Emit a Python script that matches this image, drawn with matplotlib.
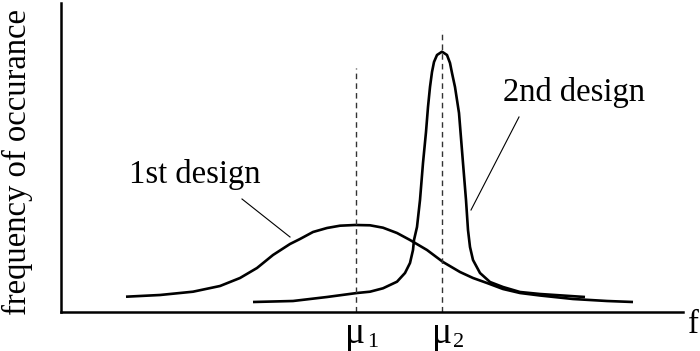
import matplotlib
matplotlib.use("Agg")
import matplotlib.pyplot as plt

# Values (x position along f, y = frequency of occurance)
design1_x = [126, 160, 193, 220, 240, 257, 273, 290, 300, 313, 327, 340, 355, 370,
             383, 397, 410, 427, 443, 460, 473, 487, 503, 520, 540, 573, 607, 633]
design1_y = [15.3, 17, 20.3, 26, 34, 44, 57, 68, 73, 80, 84, 86.3, 87, 86.7,
             84.3, 79, 72, 62, 50, 40, 34, 29, 23, 19, 16.5, 13, 11, 10]

design2_x = [253, 293, 327, 357, 370, 383, 397, 405, 410, 413, 414, 417, 420, 423,
             426, 428, 430, 432, 434, 437, 442, 447, 450, 452, 455, 459, 463, 466,
             468, 470, 473, 480, 490, 503, 520, 540, 585]
design2_y = [10, 11, 15, 19, 20.3, 23.7, 30.3, 39, 49, 62, 72, 85, 112, 149,
             180, 205, 225, 240, 250, 257, 260.3, 257, 249, 239, 225, 199, 149, 112,
             82, 65, 52, 39, 30, 25, 20, 18, 15]

mu1 = 356
mu2 = 442
mu1_top = 244
mu2_top = 282

plt.rcParams['font.family'] = ['Liberation Serif', 'DejaVu Serif']

fig = plt.figure(figsize=(7.0, 3.51), dpi=100)
ax = fig.add_axes([61/700, 39/351, (683-61)/700, 309/351])
ax.set_xlim(61, 683)
ax.set_ylim(0, 309)

ax.plot(design1_x, design1_y, color='black', lw=1.9, solid_joinstyle='round', solid_capstyle='butt')
ax.plot(design2_x, design2_y, color='black', lw=1.9, solid_joinstyle='round', solid_capstyle='butt')

ax.plot([mu1, mu1], [0, mu1_top], color='#333333', lw=1.0, linestyle=(0, (4, 3)))
ax.plot([mu2, mu2], [0, mu2_top], color='#333333', lw=1.0, linestyle=(0, (4, 3)))

for s in ['top', 'right']:
    ax.spines[s].set_visible(False)
for s in ['left', 'bottom']:
    ax.spines[s].set_linewidth(1.8)
ax.set_xticks([])
ax.set_yticks([])
ax.patch.set_alpha(0)

fs = 23.5
ax.text(17, 150, 'frequency of occurance', rotation=90, ha='center', va='center',
        fontsize=fs, clip_on=False)
ax.text(688, -21, 'f', ha='left', va='baseline', fontsize=fs, clip_on=False)

ax.text(129, 129, '1st design', ha='left', va='baseline', fontsize=fs)
ax.plot([242, 290], [113, 75], color='black', lw=0.8)
ax.text(503, 211, '2nd design', ha='left', va='baseline', fontsize=fs)
ax.plot([519, 471], [195, 102], color='black', lw=0.8)

ax.text(mu1 - 1, -31, 'μ', ha='center', va='baseline', fontsize=27, clip_on=False)
ax.text(mu1 + 11, -35, '1', ha='left', va='baseline', fontsize=16, clip_on=False)
ax.text(mu2, -31, 'μ', ha='center', va='baseline', fontsize=27, clip_on=False)
ax.text(mu2 + 11, -35, '2', ha='left', va='baseline', fontsize=16, clip_on=False)

fig.savefig('out.png', dpi=100)
